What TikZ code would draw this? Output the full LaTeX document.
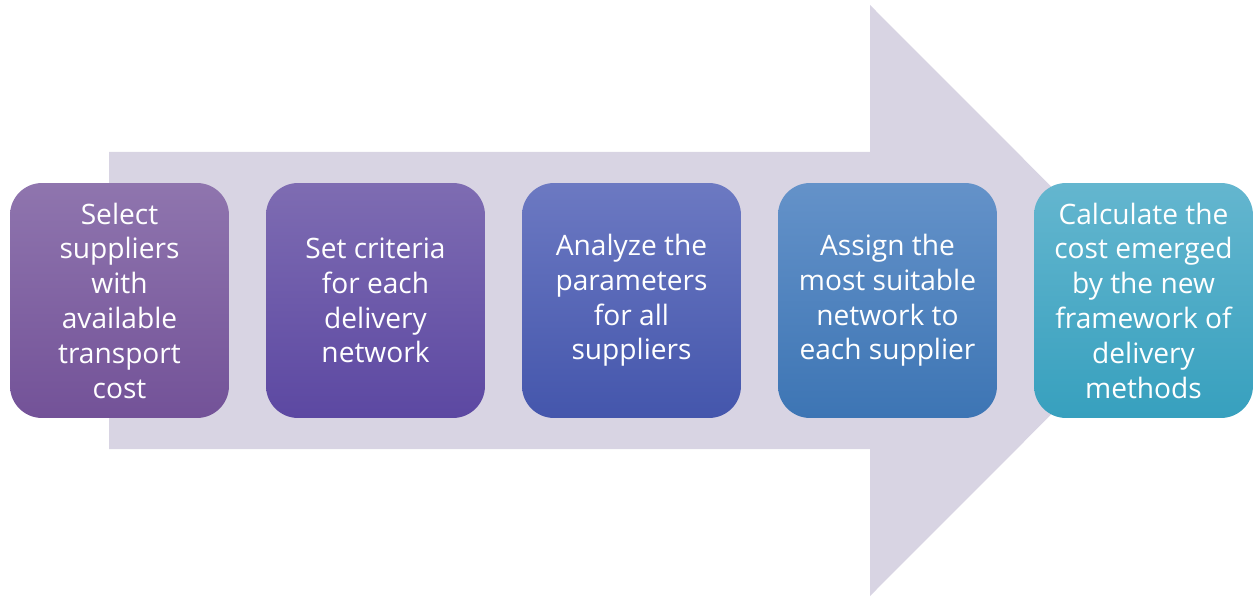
\documentclass[tikz,border=0pt]{standalone}
\usepackage{fontspec}
\setmainfont{Open Sans}
\usetikzlibrary{positioning}

\definecolor{flowbg}{RGB}{216,212,227}
\definecolor{stepAtop}{RGB}{143,117,174}
\definecolor{stepAbot}{RGB}{115,82,152}
\definecolor{stepBtop}{RGB}{126,108,178}
\definecolor{stepBbot}{RGB}{92,72,162}
\definecolor{stepCtop}{RGB}{108,121,194}
\definecolor{stepCbot}{RGB}{68,86,172}
\definecolor{stepDtop}{RGB}{100,146,201}
\definecolor{stepDbot}{RGB}{61,117,180}
\definecolor{stepEtop}{RGB}{100,182,207}
\definecolor{stepEbot}{RGB}{55,160,190}

\begin{document}
\begin{tikzpicture}[x=0.02cm, y=0.02cm,
  stepbox/.style={rectangle, rounded corners=0.64cm, minimum width=4.38cm, minimum height=4.7cm,
    inner sep=0pt, align=center, text=white, font=\fontsize{16pt}{19.8pt}\selectfont},
  stepA/.style={stepbox, top color=stepAtop, bottom color=stepAbot},
  stepB/.style={stepbox, top color=stepBtop, bottom color=stepBbot},
  stepC/.style={stepbox, top color=stepCtop, bottom color=stepCbot},
  stepD/.style={stepbox, top color=stepDtop, bottom color=stepDbot},
  stepE/.style={stepbox, top color=stepEtop, bottom color=stepEbot}]
\useasboundingbox (0,0) rectangle (1255,596);
% big arrow in the background
\fill[flowbg] (109,147) -- (870,147) -- (870,0) -- (1165,295.5) -- (870,591)
  -- (870,444) -- (109,444) -- cycle;
% process steps
\node[stepA] (select) at (119.5,295.5) {Select\\suppliers\\with\\available\\transport\\cost};
\node[stepB] (criteria) at (375.5,295.5) {Set criteria\\for each\\delivery\\network};
\node[stepC] (analyze) at (631.5,295.5) {Analyze the\\parameters\\for all\\suppliers};
\node[stepD] (assign) at (887.5,295.5) {Assign the\\most suitable\\network to\\each supplier};
\node[stepE] (calc) at (1143.5,295.5) {Calculate the\\cost emerged\\by the new\\framework of\\delivery\\methods};
\end{tikzpicture}
\end{document}
